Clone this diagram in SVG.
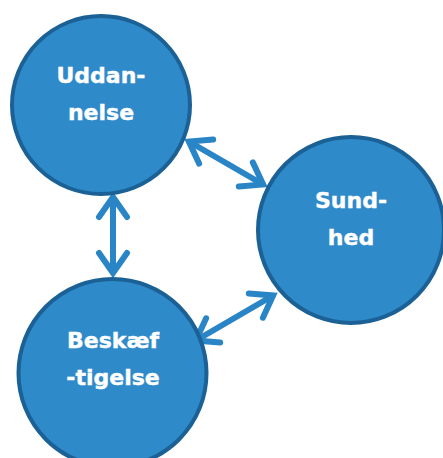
<svg xmlns="http://www.w3.org/2000/svg" width="443" height="458" viewBox="0 0 443 458">
<style>
.node{fill:#2f8ac9;stroke:#1b6195;stroke-width:4}
.lbl{font-family:"DejaVu Sans",Verdana,sans-serif;font-weight:bold;font-size:22px;fill:#ffffff;stroke:#ffffff;stroke-width:0.4;text-anchor:middle}
.conn{stroke:#2a85c6;stroke-width:6;fill:none;marker-start:url(#chev);marker-end:url(#chev)}
</style>
<defs>
<marker id="chev" markerUnits="userSpaceOnUse" markerWidth="50" markerHeight="50" viewBox="-35 -25 50 50" refX="0" refY="0" orient="auto-start-reverse" overflow="visible">
<path d="M-21,-14 L-1,0 L-21,14" fill="none" stroke="#2a85c6" stroke-width="6" stroke-linecap="round" stroke-linejoin="miter"/>
</marker>
</defs>
<rect width="443" height="458" fill="#ffffff"/>
<g id="connectors">
<line class="conn" x1="188" y1="141" x2="264" y2="185"/>
<line class="conn" x1="113" y1="196" x2="113" y2="274"/>
<line class="conn" x1="195" y1="341" x2="274" y2="295"/>
</g>
<g id="uddannelse">
<circle class="node" cx="101" cy="105" r="89"/>
<text class="lbl" x="101" y="83">Uddan-</text>
<text class="lbl" x="101" y="120">nelse</text>
</g>
<g id="sundhed">
<circle class="node" cx="351" cy="230" r="93"/>
<text class="lbl" x="351" y="208">Sund-</text>
<text class="lbl" x="351" y="245">hed</text>
</g>
<g id="beskaeftigelse">
<circle class="node" cx="112.5" cy="373" r="94"/>
<text class="lbl" x="113" y="348">Beskæf</text>
<text class="lbl" x="113" y="385">-tigelse</text>
</g>
</svg>
